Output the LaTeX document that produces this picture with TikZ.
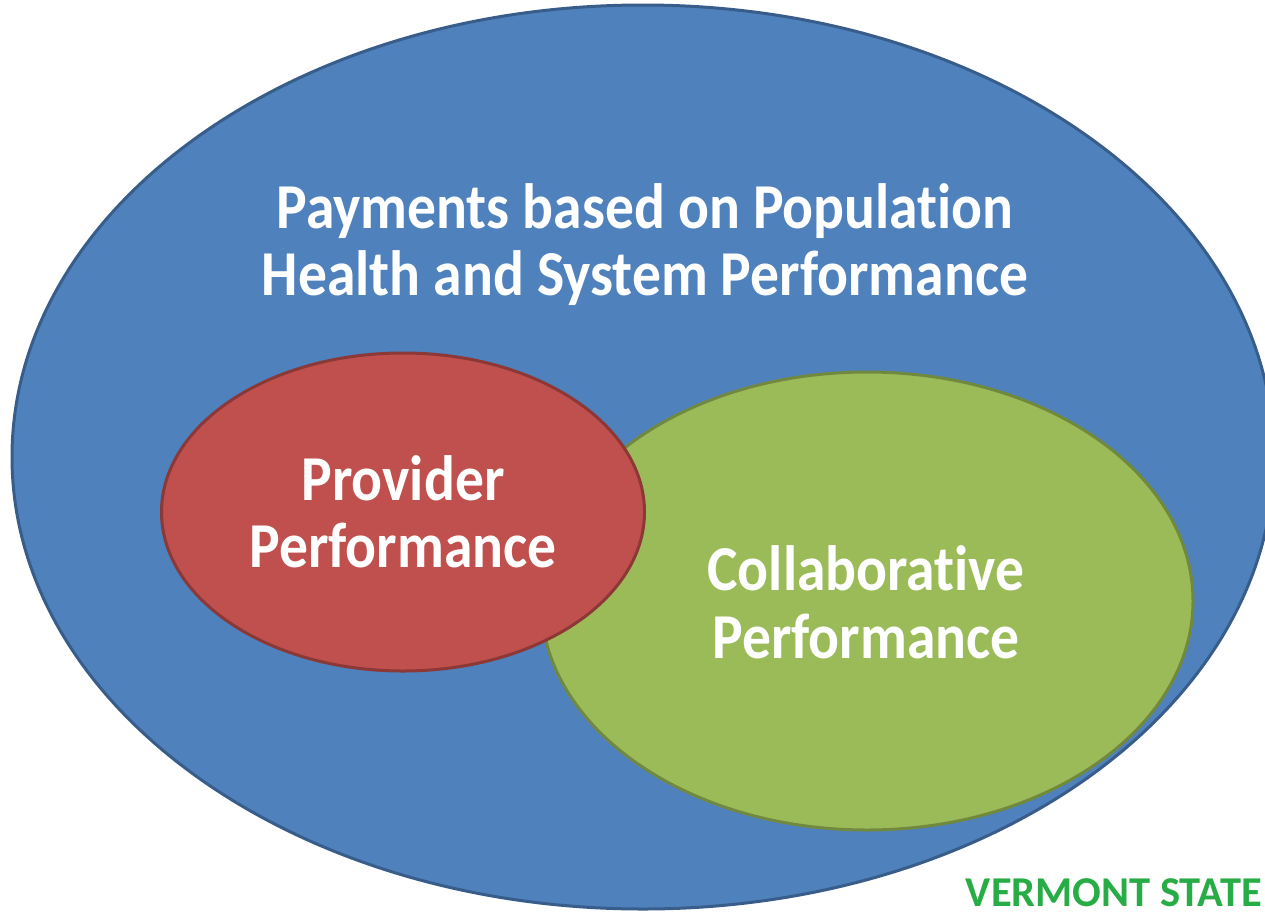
\documentclass[tikz,border=0pt]{standalone}
\usepackage{fontspec}
\setmainfont{Carlito}[Ligatures=NoCommon]
\newfontfamily\narrowfont{Carlito}[FakeStretch=0.9, Ligatures=NoCommon]
\usetikzlibrary{shapes.geometric}
\definecolor{popblue}{RGB}{79,129,189}
\definecolor{popblueline}{RGB}{56,93,138}
\definecolor{provred}{RGB}{192,80,77}
\definecolor{provredline}{RGB}{140,56,54}
\definecolor{collgreen}{RGB}{155,187,89}
\definecolor{collgreenline}{RGB}{113,137,63}
\definecolor{stategreen}{RGB}{40,172,70}
\tikzset{
  area/.style={ellipse, inner sep=0pt, outer sep=0pt, line width=3pt},
  label line/.style={anchor=base, text=white, inner sep=0pt,
    font=\narrowfont\fontsize{64}{67}\selectfont\bfseries}
}
\begin{document}
\begin{tikzpicture}[x=1pt, y=-1pt]
  \useasboundingbox (0,0) rectangle (1265,913);
  \begin{scope}
    \clip (0,0) rectangle (1265,913);
    % outer region: population health and system performance
    \node[area, draw=popblueline, fill=popblue,
          minimum width=1262pt, minimum height=904pt] (pop) at (643,457) {};
    % collaborative performance, drawn beneath the provider region
    \node[area, draw=collgreenline, fill=collgreen,
          minimum width=652pt, minimum height=458pt] (coll) at (867,601) {};
    % provider performance
    \node[area, draw=provredline, fill=provred,
          minimum width=483pt, minimum height=318pt] (prov) at (403,512) {};
  \end{scope}

  \node[label line] (popA) at (645,228) {Payments based on Population};
  \node[label line] (popB) at (645,295) {Health and System Performance};

  \node[label line] (provA) at (403,500) {Provider};
  \node[label line] (provB) at (403,567) {Performance};

  \node[label line] (collA) at (866,590) {Collaborative};
  \node[label line] (collB) at (866,658) {Performance};

  \node[anchor=base east, inner sep=0pt, text=stategreen,
        font=\fontsize{42.5}{45}\selectfont\bfseries] (state) at (1262,906) {VERMONT STATE};
\end{tikzpicture}
\end{document}
